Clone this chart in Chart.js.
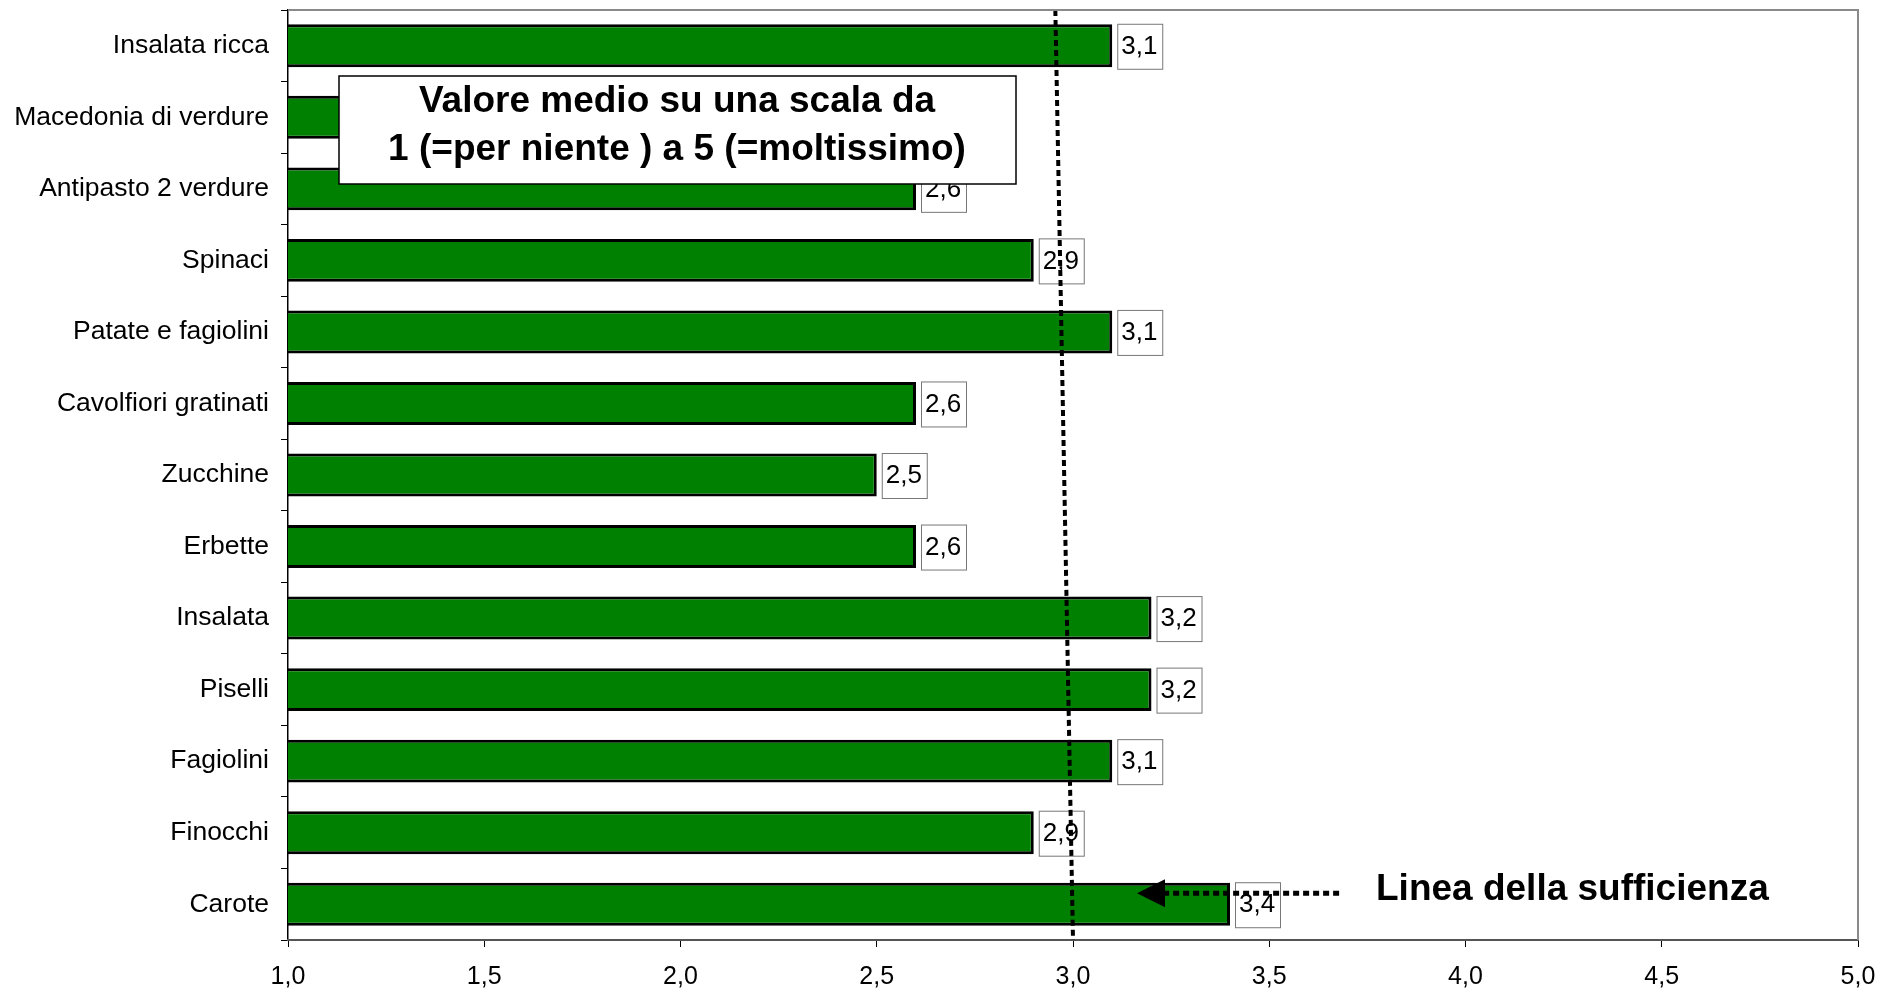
<!DOCTYPE html>
<html>
<head>
<meta charset="utf-8">
<script src="https://cdn.jsdelivr.net/npm/chart.js@4/dist/chart.umd.min.js"></script>
<style>
  html, body { margin: 0; padding: 0; background: #fff; overflow: hidden; }
</style>
</head>
<body>
<canvas id="chart" width="1897" height="993"></canvas>
<script>
// vegetables, mean score on a 1..5 scale
const categories = [
    'Insalata ricca', 'Macedonia di verdure', 'Antipasto 2 verdure', 'Spinaci',
    'Patate e fagiolini', 'Cavolfiori gratinati', 'Zucchine', 'Erbette',
    'Insalata', 'Piselli', 'Fagiolini', 'Finocchi', 'Carote'
]
const values = [3.1, 2.7, 2.6, 2.9, 3.1, 2.6, 2.5, 2.6, 3.2, 3.2, 3.1, 2.9, 3.4]
const xTickLabels = ['1,0', '1,5', '2,0', '2,5', '3,0', '3,5', '4,0', '4,5', '5,0']

// the hand drawn "sufficiency" line is a bit slanted
const sufficiencyTop = 2.955
const sufficiencyBottom = 3.0
const arrowTip = 3.163
const arrowTail = 3.678

const noteLines = ['Valore medio su una scala da', '1 (=per niente ) a 5 (=moltissimo)']
const arrowText = 'Linea della sufficienza'

const FONT = "'Liberation Sans', Arial, sans-serif"

const frame = {
    id: 'frame',
    afterDraw(chart) {
        const { ctx, chartArea: a } = chart
        ctx.save()
        ctx.strokeStyle = '#8a8a8a'
        ctx.lineWidth = 2
        ctx.beginPath()
        ctx.moveTo(a.left, a.top)
        ctx.lineTo(a.right, a.top)
        ctx.lineTo(a.right, a.bottom)
        ctx.stroke()
        ctx.restore()
    }
}

const labelsAndNotes = {
    id: 'labelsAndNotes',
    afterDatasetsDraw(chart) {
        const ctx = chart.ctx
        const x = chart.scales.x
        const a = chart.chartArea
        const bars = chart.getDatasetMeta(0).data

        // value boxes
        ctx.save()
        ctx.font = '26px ' + FONT
        ctx.textBaseline = 'middle'
        bars.forEach(function(bar, i) {
            const bx = bar.x + 5
            const by = bar.y - 22
            ctx.fillStyle = '#fff'
            ctx.fillRect(bx, by, 45, 45)
            ctx.strokeStyle = '#777'
            ctx.lineWidth = 1
            ctx.strokeRect(bx + 0.5, by + 0.5, 45, 45)
            ctx.fillStyle = '#000'
            ctx.fillText(values[i].toFixed(1).replace('.', ','), bx + 4, bar.y + 1)
        })
        ctx.restore()

        // sufficiency line
        ctx.save()
        ctx.strokeStyle = '#000'
        ctx.lineWidth = 4
        ctx.setLineDash([6, 4])
        ctx.beginPath()
        ctx.moveTo(x.getPixelForValue(sufficiencyTop), a.top)
        ctx.lineTo(x.getPixelForValue(sufficiencyBottom), a.bottom)
        ctx.stroke()
        ctx.restore()

        // note box
        ctx.save()
        ctx.fillStyle = '#fff'
        ctx.fillRect(339, 76, 677, 108)
        ctx.strokeStyle = '#000'
        ctx.lineWidth = 1.5
        ctx.strokeRect(339, 76, 677, 108)
        ctx.fillStyle = '#000'
        ctx.font = 'bold 37px ' + FONT
        ctx.textAlign = 'center'
        ctx.textBaseline = 'middle'
        ctx.fillText(noteLines[0], 677, 102)
        ctx.fillText(noteLines[1], 677, 150)
        ctx.restore()

        // arrow pointing at the line
        const last = bars[bars.length - 1]
        const ay = last.y - 11
        const tip = x.getPixelForValue(arrowTip)
        const tail = x.getPixelForValue(arrowTail)
        ctx.save()
        ctx.strokeStyle = '#000'
        ctx.lineWidth = 5
        ctx.setLineDash([6, 4])
        ctx.beginPath()
        ctx.moveTo(tail, ay)
        ctx.lineTo(tip + 24, ay)
        ctx.stroke()
        ctx.setLineDash([])
        ctx.fillStyle = '#000'
        ctx.beginPath()
        ctx.moveTo(tip, ay)
        ctx.lineTo(tip + 28, ay - 14)
        ctx.lineTo(tip + 28, ay + 14)
        ctx.closePath()
        ctx.fill()
        ctx.font = 'bold 37px ' + FONT
        ctx.textBaseline = 'middle'
        ctx.fillText(arrowText, 1376, ay - 3)
        ctx.restore()
    }
}

new Chart(document.getElementById('chart'), {
    type: 'bar',
    data: {
        labels: categories,
        datasets: [{
            data: values,
            backgroundColor: '#008000',
            borderColor: '#000',
            borderWidth: 3,
            borderSkipped: false,
            barPercentage: 0.6,
            categoryPercentage: 1.0
        }]
    },
    options: {
        indexAxis: 'y',
        responsive: false,
        devicePixelRatio: 1,
        animation: false,
        layout: { padding: { top: 10, right: 39, left: 0, bottom: 0 } },
        plugins: {
            legend: { display: false },
            tooltip: { enabled: false }
        },
        scales: {
            y: {
                offset: true,
                grid: { drawOnChartArea: false, offset: true, tickLength: 7, color: '#000', lineWidth: 1 },
                border: { color: '#000', width: 1.5 },
                ticks: { color: '#000', padding: 12, font: { family: FONT, size: 26.5 } },
                afterFit(scale) {
                    scale.width = 288
                    scale.paddingTop = 0
                    scale.paddingBottom = 0
                }
            },
            x: {
                min: 1,
                max: 5,
                grid: { drawOnChartArea: false, tickLength: 7, color: '#000', lineWidth: 1 },
                border: { color: '#555', width: 2 },
                ticks: {
                    stepSize: 0.5,
                    color: '#000',
                    padding: 15,
                    maxRotation: 0,
                    font: { family: FONT, size: 25 },
                    callback: (v, i) => xTickLabels[i]
                },
                afterFit(scale) { scale.height = 53 }
            }
        }
    },
    plugins: [frame, labelsAndNotes]
})
</script>
</body>
</html>
